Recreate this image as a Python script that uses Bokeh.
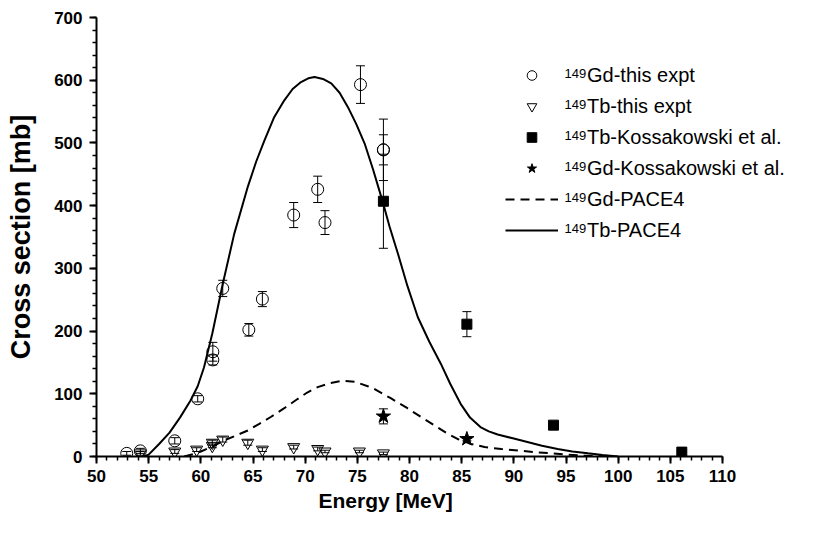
from bokeh.plotting import figure
from bokeh.models import (Range1d, SingleIntervalTicker, Whisker, ColumnDataSource,
                          TeeHead, Legend, LegendItem, Label, Title)
from bokeh.embed import file_html
from bokeh.resources import INLINE

# ---------------- data ----------------
gd_expt_E = [52.9, 54.2, 57.5, 59.7, 61.15, 61.15, 62.1, 64.6, 65.9, 68.9, 71.2, 71.9, 75.3, 77.5, 77.5]
gd_expt_xs = [5, 9, 25, 92, 167, 154, 268, 202, 251, 385, 426, 373, 593, 489, 489]
gd_expt_err = [3, 4, 5, 5, 15, 8, 13, 10, 12, 20, 21, 19, 30, 49, 24]

tb_expt_E = [54.2, 57.5, 59.6, 61.1, 61.1, 62.1, 64.5, 65.9, 68.9, 71.2, 71.9, 75.2, 77.5]
tb_expt_xs = [5, 8, 11, 22, 17, 27, 22, 11, 15, 12, 8, 8, 5]
tb_expt_err = [3, 3, 3, 4, 3, 4, 4, 3, 3, 3, 2, 2, 2]

tb_koss_E = [77.5, 85.5, 93.8, 106.1]
tb_koss_xs = [407, 211, 50, 7]
tb_koss_err = [75, 20, 0, 0]

gd_koss_E = [77.5, 85.5]
gd_koss_xs = [64, 28]
gd_koss_err = [12, 3]

tb_pace_E = [54.5, 55.0, 56.0, 57.0, 58.0, 59.0, 59.7, 60.3, 61.1, 62.1, 63.2, 64.5, 65.3,
             66.1, 67.0, 68.0, 68.8, 69.6, 70.3, 70.9, 71.7, 72.5, 73.3, 74.1, 74.9,
             75.7, 76.5, 77.4, 78.1, 78.9, 79.8, 80.8, 81.9, 83.0, 83.9, 84.9, 85.8,
             86.8, 87.6, 88.45, 89.9, 91.3, 92.7, 94.2, 95.6, 97.1, 98.5, 100.0]
tb_pace_xs = [0, 3, 20, 38, 62, 89, 112, 142, 196, 275, 355, 430, 470,
              504, 540, 568, 586, 597, 603, 605, 602, 595, 580, 557, 530,
              499, 458, 408, 366, 323, 272, 222, 183, 148, 116, 84, 62,
              47, 40, 35, 29, 23, 17, 12, 8, 5, 2.5, 0]

gd_pace_E = [58.4, 59.3, 60.0, 61.0, 62.2, 63.3, 64.5, 65.6, 66.7, 68.0, 69.3, 70.2,
             71.2, 72.4, 73.6, 74.8, 76.0, 76.6, 78.2, 79.8, 81.1, 82.4, 83.5, 84.6,
             85.9, 87.2, 88.8, 90.4, 92.0, 93.6, 95.2, 96.75, 99.0]
gd_pace_xs = [0, 4, 8, 15, 25.5, 33, 41.5, 52, 63, 77, 92, 102,
              110.6, 117, 121, 119, 112, 108, 93, 77, 63, 49.5, 38, 28,
              20, 15, 12, 9.6, 7, 5, 3, 1.6, 0]

legend_labels = ["Gd-this expt", "Tb-this expt", "Tb-Kossakowski et al.",
                 "Gd-Kossakowski et al.", "Gd-PACE4", "Tb-PACE4"]
mass_number = "149"
x_label = "Energy [MeV]"
y_label = "Cross section [mb]"
x_axis_min, x_axis_max = 50, 110
y_axis_min, y_axis_max = 0, 700

# ---------------- layout (figure pixels) ----------------
W, H = 805, 517
ML, MT, MB, MR = 96, 17, 61, 0
PX_PER_UNIT = 626 / (x_axis_max - x_axis_min)     # 110 sits at x=722 px
FRAME_W = W - ML - MR
x_view_end = x_axis_min + FRAME_W / PX_PER_UNIT      # frame runs past 110 (blank) so the legend fits
FONT = "Liberation Sans"

p = figure(width=W, height=H,
           x_range=Range1d(x_axis_min, x_view_end), y_range=Range1d(y_axis_min, y_axis_max),
           output_backend="svg", toolbar_location=None,
           min_border_left=ML, min_border_right=MR, min_border_top=MT, min_border_bottom=MB)
p.outline_line_color = None
p.xgrid.visible = False
p.ygrid.visible = False
p.background_fill_color = "white"

p.xaxis.ticker = SingleIntervalTicker(interval=5, num_minor_ticks=5)
p.yaxis.ticker = SingleIntervalTicker(interval=100, num_minor_ticks=5)
p.xaxis.bounds = (x_axis_min, x_axis_max)
for ax in (p.xaxis, p.yaxis):
    ax.axis_line_width = 2
    ax.axis_line_color = "black"
    ax.major_tick_line_width = 2
    ax.minor_tick_line_width = 1.5
    ax.major_tick_line_color = "black"
    ax.minor_tick_line_color = "black"
    ax.major_tick_in = 0
    ax.major_tick_out = 7
    ax.minor_tick_in = 0
    ax.minor_tick_out = 4
    ax.major_label_text_font = FONT
    ax.major_label_text_font_style = "bold"
    ax.major_label_text_font_size = "17px"
    ax.major_label_text_color = "black"
    ax.axis_label_text_font = FONT
    ax.axis_label_text_font_style = "bold"
    ax.axis_label_text_color = "black"

p.yaxis.axis_label = y_label
p.yaxis.axis_label_text_font_size = "27px"
p.xaxis.major_label_standoff = 6
p.yaxis.major_label_standoff = 7
p.yaxis.axis_label_standoff = 15

# x-axis title, placed off-centre like the reference
x_title = Title(text=x_label, align="left", offset=318 - ML, standoff=4,
                text_font=FONT, text_font_style="bold", text_font_size="21px",
                text_color="black")
p.add_layout(x_title, "below")

# ---------------- curves ----------------
r_gd_pace = p.line(gd_pace_E, gd_pace_xs, line_color="black", line_width=2, line_dash="9 6")
r_tb_pace = p.line(tb_pace_E, tb_pace_xs, line_color="black", line_width=2)

# ---------------- error bars ----------------
def add_err(E, v, e):
    xs, up, lo = [], [], []
    for a, b, c in zip(E, v, e):
        if c > 0:
            xs.append(a); up.append(b + c); lo.append(b - c)
    src = ColumnDataSource(dict(x=xs, upper=up, lower=lo))
    w = Whisker(base="x", upper="upper", lower="lower", source=src,
                line_color="black", line_width=1,
                upper_head=TeeHead(size=9, line_width=1, line_color="black"),
                lower_head=TeeHead(size=9, line_width=1, line_color="black"))
    p.add_layout(w)

add_err(gd_expt_E, gd_expt_xs, gd_expt_err)
add_err(tb_expt_E, tb_expt_xs, tb_expt_err)
add_err(tb_koss_E, tb_koss_xs, tb_koss_err)
add_err(gd_koss_E, gd_koss_xs, gd_koss_err)

# ---------------- markers ----------------
r_gd_expt = p.scatter(gd_expt_E, gd_expt_xs, marker="circle", size=12,
                      fill_color=None, line_color="black", line_width=1)
r_tb_expt = p.scatter(tb_expt_E, tb_expt_xs, marker="inverted_triangle", size=12,
                      fill_color=None, line_color="black", line_width=1)
r_tb_koss = p.scatter(tb_koss_E, tb_koss_xs, marker="square", size=10,
                      fill_color="black", line_color="black")
r_gd_koss = p.scatter(gd_koss_E, gd_koss_xs, marker="star", size=15,
                      fill_color="black", line_color="black")

# ---------------- legend ----------------
FRAME_BOTTOM = H - MB
FRAME_H = H - MT - MB
row_h, row_gap = 24, 7
row_centers = [75 + (row_h + row_gap) * k for k in range(6)]   # figure px
glyph_left = 505                                               # figure px
legend_bottom = row_centers[-1] + row_h / 2

legend = Legend(
    items=[LegendItem(label=lab, renderers=[r]) for lab, r in zip(
        legend_labels, [r_gd_expt, r_tb_expt, r_tb_koss, r_gd_koss, r_gd_pace, r_tb_pace])],
    location=(glyph_left - ML, FRAME_BOTTOM - legend_bottom),
    orientation="vertical", padding=0, margin=0, spacing=row_gap,
    glyph_width=53, glyph_height=row_h, label_height=row_h, label_width=20,
    label_standoff=29, label_text_font=FONT, label_text_font_size="20px",
    label_text_color="black", border_line_color=None, background_fill_alpha=0)
p.add_layout(legend)

def px_to_x(px):
    return x_axis_min + (px - ML) / PX_PER_UNIT

def py_to_y(py):
    return y_axis_min + (FRAME_BOTTOM - py) / FRAME_H * (y_axis_max - y_axis_min)

for c in row_centers:
    p.add_layout(Label(x=px_to_x(564), y=py_to_y(c - 2), text=mass_number,
                       text_font=FONT, text_font_size="13px", text_color="black",
                       text_baseline="alphabetic", text_align="left"))

open("out.html", "w").write(file_html(p, INLINE))
